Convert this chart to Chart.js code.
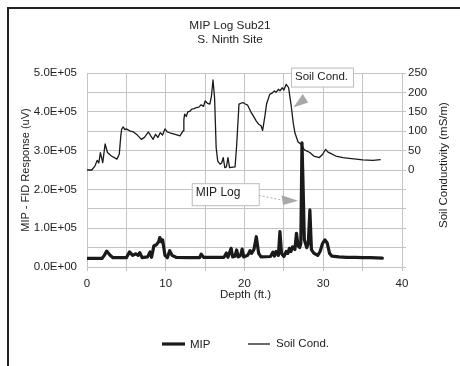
<!DOCTYPE html>
<html>
<head>
<meta charset="utf-8">
<script src="https://cdn.jsdelivr.net/npm/chart.js@4/dist/chart.umd.min.js"></script>
<style>
html,body{margin:0;padding:0;background:#fff;}
canvas{display:block;}
</style>
</head>
<body>
<canvas id="c" width="460" height="366"></canvas>
<script>
// ---- data ----
const titleLines = ["MIP Log Sub21", "S. Ninth Site"];
const xTitle = "Depth (ft.)";
const yLeftTitle = "MIP - FID Response (uV)";
const yRightTitle = "Soil Conductivity (mS/m)";
const seriesNames = ["MIP", "Soil Cond."];

const mipDepth = [0.0,1.9,2.2,2.5,2.9,3.3,5.0,5.4,5.8,6.2,6.5,6.7,7.0,7.7,8.0,8.2,8.5,8.8,9.1,9.25,9.45,9.6,9.9,10.2,10.5,10.8,11.3,13.0,14.3,14.5,14.8,17.4,17.7,17.9,18.3,18.5,18.8,19.0,19.2,19.5,19.7,19.9,20.4,20.7,20.9,21.2,21.5,21.8,22.1,23.3,23.6,23.8,24.0,24.3,24.5,24.7,25.0,25.3,25.5,25.7,25.9,26.1,26.4,26.6,26.8,27.0,27.15,27.3,27.45,27.6,27.9,28.1,28.3,28.5,28.8,29.3,29.6,29.9,30.2,30.5,30.8,31.1,32.0,33.0,34.0,35.0,36.0,37.5];
const mipValue = [22000,22000,30000,41000,31000,24000,24000,39000,30000,34000,30000,37000,24000,26000,39000,25000,55000,57000,65000,76000,65000,70000,30000,24000,42000,30000,25000,24000,24000,33000,25000,25000,36000,25000,48000,26000,28000,44000,26000,30000,46000,26000,30000,42000,35000,45000,78000,35000,26000,27000,38000,28000,40000,30000,91000,35000,27000,40000,35000,48000,40000,52000,45000,87000,55000,50000,60000,320000,200000,70000,50000,60000,147000,45000,36000,30000,40000,60000,70000,62000,35000,28000,26000,25000,25000,24000,24000,23000];

const soilDepth = [0.0,0.6,1.0,1.3,1.5,1.7,2.0,2.3,2.6,3.1,3.8,4.1,4.3,4.4,4.6,4.8,5.0,5.5,5.9,6.4,6.9,7.3,7.8,8.1,8.4,8.7,9.0,9.3,9.6,9.9,10.2,10.5,11.2,11.8,12.2,12.3,12.4,12.6,12.8,13.1,13.3,13.6,13.9,14.2,14.5,14.8,15.0,15.3,15.6,15.8,16.0,16.2,16.4,16.6,16.9,17.1,17.3,17.5,17.7,17.9,18.1,18.8,19.0,19.3,19.8,20.1,20.4,20.8,21.1,21.5,21.8,22.1,22.3,22.6,22.8,23.2,23.5,23.8,24.0,24.3,24.5,24.8,25.0,25.3,25.6,25.9,26.2,26.4,26.8,27.2,27.6,28.3,28.8,29.5,29.9,30.3,30.6,31.0,31.6,32.5,33.3,34.2,35.0,36.3,37.3];
const soilValue = [0,0,10,25,18,45,19,67,45,36,28,41,90,105,111,104,106,100,98,90,79,84,98,88,79,92,84,96,90,106,98,96,92,88,101,130,144,138,150,152,157,158,161,162,168,164,178,172,170,190,232,187,58,23,15,18,32,6,8,32,6,8,62,170,174,170,167,150,140,126,118,114,102,140,170,195,198,204,200,208,204,212,206,221,212,170,120,96,72,66,52,45,36,32,40,53,46,42,36,32,30,28,26,25,27];

// callouts: box top-left (depth, axis value) and pointer triangle (depth, axis value)
const callouts = [
  {text: "Soil Cond.", axis: "y2", box: [25.9, 264], w: 62, h: 19, tri: [[26.2,161],[27.4,196],[28.1,174]], dashed: false},
  {text: "MIP Log", axis: "y", box: [13.3, 216000], w: 67, h: 22, tri: [[24.7,185000],[24.9,160000],[26.8,171000]], dashed: true}
];

const FONT = "'Liberation Sans', Arial, sans-serif";
const TXT = "#222";
const GRID = "#c4c4c4";

function fmtE(v) {
  if (v % 100000 !== 0) return "";
  const e = v === 0 ? 0 : Math.floor(Math.log10(Math.abs(v)));
  const m = v / Math.pow(10, e);
  return m.toFixed(1) + "E+" + String(e).padStart(2, "0");
}

const decor = {
  id: "decor",
  beforeDraw(chart) {
    const ctx = chart.ctx;
    ctx.save();
    ctx.fillStyle = "#fff";
    ctx.fillRect(0, 0, chart.width, chart.height);
    ctx.restore();
  },
  afterDraw(chart) {
    const ctx = chart.ctx;
    const ca = chart.chartArea;
    const sx = chart.scales.x;
    ctx.save();
    // frame
    ctx.strokeStyle = "#222";
    ctx.lineWidth = 2;
    ctx.strokeRect(8, 8, 480, 400);
    // title
    ctx.fillStyle = TXT;
    ctx.textAlign = "center";
    ctx.textBaseline = "middle";
    ctx.font = "11.8px " + FONT;
    ctx.fillText(titleLines[0], 230, 26);
    ctx.fillText(titleLines[1], 230, 40);
    // axis titles
    ctx.font = "11.5px " + FONT;
    ctx.fillText(xTitle, (ca.left + ca.right) / 2 + 1, 295);
    ctx.save();
    ctx.translate(26, 170);
    ctx.rotate(-Math.PI / 2);
    ctx.font = "11px " + FONT;
    ctx.fillText(yLeftTitle, 0, 0);
    ctx.restore();
    ctx.save();
    ctx.translate(444, 165);
    ctx.rotate(-Math.PI / 2);
    ctx.fillText(yRightTitle, 0, 0);
    ctx.restore();
    // legend
    const ly = 344;
    ctx.strokeStyle = "#1a1a1a";
    ctx.lineWidth = 3.2;
    ctx.beginPath(); ctx.moveTo(162, ly); ctx.lineTo(185, ly); ctx.stroke();
    ctx.lineWidth = 1.3;
    ctx.beginPath(); ctx.moveTo(248, ly); ctx.lineTo(270, ly); ctx.stroke();
    ctx.textAlign = "left";
    ctx.font = "11.5px " + FONT;
    ctx.fillText(seriesNames[0], 190, ly + 1);
    ctx.fillText(seriesNames[1], 276, ly);
    // callouts
    callouts.forEach(c => {
      const sy = chart.scales[c.axis];
      const bx = sx.getPixelForValue(c.box[0]);
      const by = sy.getPixelForValue(c.box[1]);
      const pts = c.tri.map(p => [sx.getPixelForValue(p[0]), sy.getPixelForValue(p[1])]);
      if (c.dashed) {
        ctx.strokeStyle = "#aaa";
        ctx.lineWidth = 1;
        ctx.setLineDash([2, 2]);
        ctx.beginPath();
        ctx.moveTo(bx + c.w, by + c.h * 0.55);
        ctx.lineTo(pts[0][0], (pts[0][1] + pts[1][1]) / 2);
        ctx.stroke();
        ctx.setLineDash([]);
      }
      ctx.fillStyle = "#a8a8a8";
      ctx.beginPath();
      ctx.moveTo(pts[0][0], pts[0][1]);
      ctx.lineTo(pts[1][0], pts[1][1]);
      ctx.lineTo(pts[2][0], pts[2][1]);
      ctx.closePath();
      ctx.fill();
      ctx.fillStyle = "#fff";
      ctx.fillRect(bx, by, c.w, c.h);
      ctx.strokeStyle = "#bbb";
      ctx.lineWidth = 1;
      ctx.strokeRect(bx + 0.5, by + 0.5, c.w, c.h);
      ctx.fillStyle = TXT;
      ctx.textAlign = "left";
      ctx.textBaseline = "middle";
      ctx.font = (c.dashed ? "12px " : "11.5px ") + FONT;
      ctx.fillText(c.text, bx + 4, by + c.h / 2 + (c.dashed ? -2 : 0));
    });
    ctx.restore();
  }
};

const tickFont = {family: FONT, size: 11.5};

new Chart(document.getElementById("c"), {
  type: "line",
  data: {
    datasets: [
      {
        label: seriesNames[0],
        data: mipDepth.map((d, i) => ({x: d, y: mipValue[i]})),
        yAxisID: "y",
        borderColor: "#1a1a1a",
        borderWidth: 3.2,
        borderJoinStyle: "round",
        borderCapStyle: "round",
        pointRadius: 0,
        tension: 0,
        fill: false
      },
      {
        label: seriesNames[1],
        data: soilDepth.map((d, i) => ({x: d, y: soilValue[i]})),
        yAxisID: "y2",
        borderColor: "#1a1a1a",
        borderWidth: 1.3,
        borderJoinStyle: "round",
        pointRadius: 0,
        tension: 0,
        fill: false
      }
    ]
  },
  options: {
    responsive: false,
    animation: false,
    layout: {padding: {top: 73, left: 0, right: 0, bottom: 69}},
    plugins: {legend: {display: false}, title: {display: false}, tooltip: {enabled: false}},
    scales: {
      x: {
        type: "linear",
        min: 0, max: 40,
        border: {display: false},
        grid: {color: GRID, lineWidth: 1, tickLength: 4},
        ticks: {stepSize: 5, autoSkip: false, maxRotation: 0, padding: 6, color: TXT, font: tickFont,
          callback: v => (v % 10 === 0 ? String(v) : "")},
        afterFit: s => { s.height = 30; }
      },
      y: {
        position: "left",
        min: 0, max: 500000,
        border: {display: false},
        grid: {color: GRID, lineWidth: 1, drawTicks: false},
        ticks: {stepSize: 50000, autoSkip: false, padding: 10, color: TXT, font: tickFont, callback: v => fmtE(v)},
        afterFit: s => { s.width = 87; }
      },
      y2: {
        position: "right",
        min: -250, max: 250,
        border: {display: false},
        grid: {drawOnChartArea: false, color: GRID, tickLength: 4},
        ticks: {stepSize: 50, autoSkip: false, padding: 2, color: TXT, font: tickFont,
          callback: v => (v >= 0 ? String(v) : "")},
        afterFit: s => { s.width = 58; }
      }
    }
  },
  plugins: [decor]
});
</script>
</body>
</html>
